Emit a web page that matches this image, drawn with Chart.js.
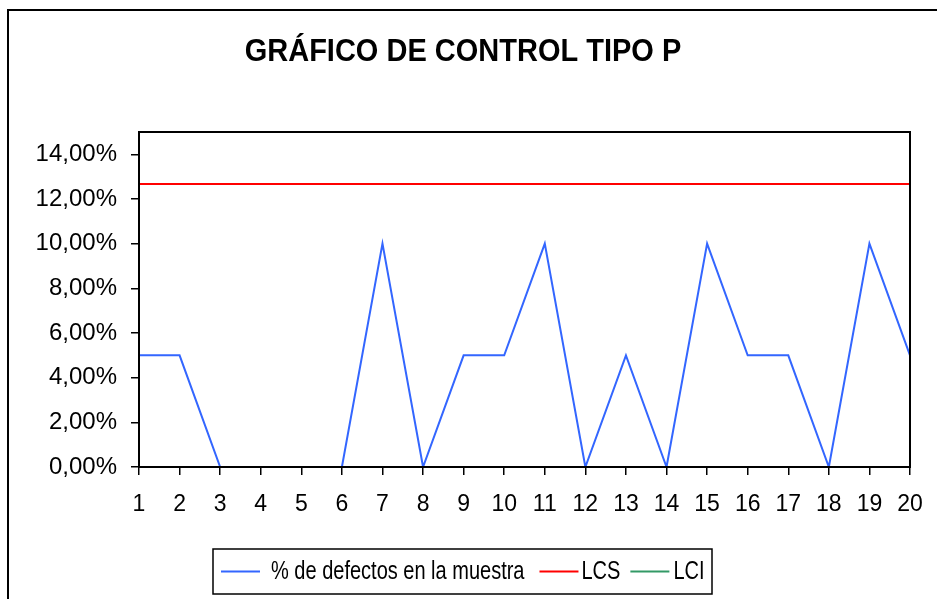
<!DOCTYPE html>
<html>
<head>
<meta charset="utf-8">
<script src="https://cdn.jsdelivr.net/npm/chart.js@4/dist/chart.umd.min.js"></script>
<style>
  html, body { margin: 0; padding: 0; background: #fff; }
  #wrap { width: 937px; height: 599px; position: relative; }
</style>
</head>
<body>
<div id="wrap"><canvas id="c" width="937" height="599"></canvas></div>
<script>
const chartTitle = "GRÁFICO DE CONTROL TIPO P";
const categories = ["1","2","3","4","5","6","7","8","9","10","11","12","13","14","15","16","17","18","19","20"];
const defectPct = [0.05,0.05,0,0,0,0,0.10,0,0.05,0.05,0.10,0,0.05,0,0.10,0.05,0.05,0,0.10,0.05];
const lcsValues = Array(20).fill(0.1267);
const lciValues = Array(20).fill(-0.0467);
const seriesNames = ["% de defectos en la muestra", "LCS", "LCI"];
const seriesColors = ["#3366FF", "#FF0000", "#339966"];

const FONT = "'Liberation Sans', Arial, sans-serif";

const framePlugin = {
  id: 'frame',
  beforeDraw(chart) {
    const ctx = chart.ctx;
    ctx.save();
    ctx.fillStyle = '#fff';
    ctx.fillRect(0, 0, chart.width, chart.height);
    ctx.strokeStyle = '#000';
    ctx.lineWidth = 2;
    ctx.beginPath();
    ctx.moveTo(8, chart.height + 2);
    ctx.lineTo(8, 10);
    ctx.lineTo(chart.width + 2, 10);
    ctx.stroke();
    ctx.fillStyle = '#000';
    ctx.font = "bold 29px " + FONT;
    ctx.textAlign = 'center';
    ctx.textBaseline = 'alphabetic';
    ctx.translate(463, 61);
    ctx.scale(1, 1.06);
    ctx.fillText(chartTitle, 0, 0);
    ctx.restore();
  },
  afterDraw(chart) {
    const ctx = chart.ctx;
    const a = chart.chartArea;
    ctx.save();
    ctx.strokeStyle = '#000';
    ctx.lineWidth = 2;
    ctx.strokeRect(a.left, a.top, a.right - a.left, a.bottom - a.top);
    const bx = 213, by = 549, bw = 499, bh = 45;
    ctx.lineWidth = 1.5;
    ctx.strokeRect(bx, by, bw, bh);
    ctx.font = "20px " + FONT;
    ctx.textAlign = 'left';
    ctx.textBaseline = 'alphabetic';
    const cy = by + bh / 2;
    const gapBefore = [11, 3, 4];
    const gapAfter = [15, 10, 0];
    let x = bx + 8;
    chart.data.datasets.forEach((ds, i) => {
      ctx.strokeStyle = ds.borderColor;
      ctx.lineWidth = 2;
      ctx.beginPath();
      ctx.moveTo(x, cy);
      ctx.lineTo(x + 39, cy);
      ctx.stroke();
      x += 39 + gapBefore[i];
      ctx.fillStyle = '#000';
      ctx.save();
      ctx.translate(x, cy + 7);
      ctx.scale(1, 1.25);
      ctx.fillText(ds.label, 0, 0);
      ctx.restore();
      x += ctx.measureText(ds.label).width + gapAfter[i];
    });
    ctx.restore();
  }
};

new Chart(document.getElementById('c'), {
  type: 'line',
  data: {
    labels: categories,
    datasets: [
      { label: seriesNames[0], data: defectPct, borderColor: seriesColors[0], borderWidth: 2, pointRadius: 0, tension: 0, fill: false },
      { label: seriesNames[1], data: lcsValues, borderColor: seriesColors[1], borderWidth: 2, pointRadius: 0, tension: 0, fill: false },
      { label: seriesNames[2], data: lciValues, borderColor: seriesColors[2], borderWidth: 2, pointRadius: 0, tension: 0, fill: false }
    ]
  },
  options: {
    responsive: false,
    animation: false,
    events: [],
    layout: { padding: { top: 132, right: 27, left: 0, bottom: 0 } },
    plugins: { legend: { display: false }, title: { display: false }, tooltip: { enabled: false } },
    scales: {
      x: {
        offset: false,
        grid: { display: true, drawOnChartArea: false, drawTicks: true, tickLength: 8, color: '#000', lineWidth: 1.5, offset: false },
        border: { display: true, color: '#000', width: 2 },
        ticks: { color: '#000', font: { family: FONT, size: 23 }, padding: 16, maxRotation: 0, autoSkip: false },
        afterFit(scale) { scale.height = 132; scale.paddingRight = 0; scale.paddingLeft = 0; }
      },
      y: {
        min: 0, max: 0.15,
        grid: { display: true, drawOnChartArea: false, drawTicks: true, tickLength: 8, color: '#000', lineWidth: 1.5 },
        border: { display: true, color: '#000', width: 2 },
        ticks: {
          stepSize: 0.02,
          includeBounds: false,
          color: '#000',
          font: { family: FONT, size: 24 },
          padding: 14,
          callback(v) {
            return (v * 100).toFixed(2).replace('.', ',') + '%';
          }
        },
        afterFit(scale) { scale.width = 139; scale.paddingTop = 0; scale.paddingBottom = 0; }
      }
    }
  },
  plugins: [framePlugin]
});
</script>
</body>
</html>
